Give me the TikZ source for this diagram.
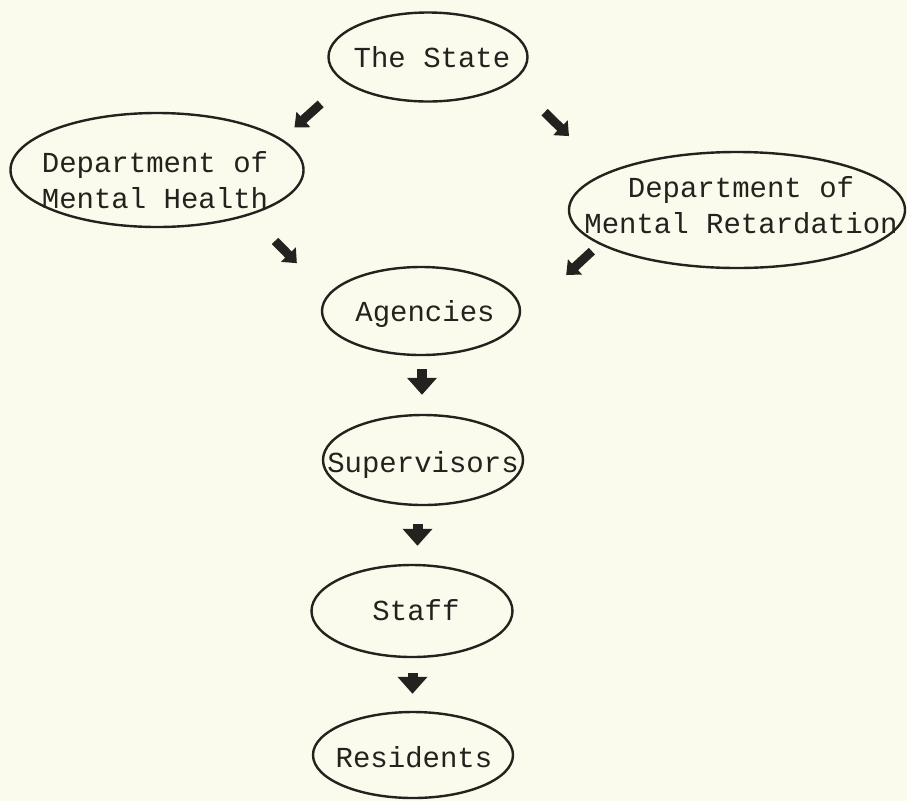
\documentclass[tikz,border=0pt]{standalone}
\usepackage{fontspec}
\setmainfont{Liberation Mono}
\usepackage{tikz}
\usetikzlibrary{arrows.meta,calc,shapes.geometric}
\definecolor{paper}{RGB}{250,251,236}
\definecolor{ink}{RGB}{36,34,30}
\tikzset{
	org/.style={ellipse, draw=ink, line width=2.4pt, inner sep=0pt},
	orgtext/.style={inner sep=0pt, text=ink, font=\fontsize{29}{36}\selectfont},
	oneline/.style={text height=19pt, text depth=0pt},
	twoline/.style={align=center},
	slant/.style={draw=ink, line width=9pt, -{Triangle[width=20pt,length=12pt]}},
	drop/.style={draw=ink, line width=10pt, -{Triangle[width=29pt,length=17pt]}}
}

\begin{document}
\begin{tikzpicture}[x=1pt,y=-1pt]
		%%%%% START %%%%%
		\useasboundingbox (0,0) rectangle (907,801);
		\fill[paper] (0,0) rectangle (907,801);
		
		\node[org, minimum width=199pt, minimum height=89pt, label={[orgtext,oneline,xshift=4pt,yshift=-1pt]center:The State}] (state) at (428,57) {};
		\node[org, minimum width=293pt, minimum height=114pt, label={[orgtext,twoline,xshift=-2pt,yshift=-10pt]center:Department of\\Mental Health}] (dmh) at (157,170) {};
		\node[org, minimum width=336pt, minimum height=116pt, label={[orgtext,twoline,xshift=4pt,yshift=5pt]center:Department of\\Mental Retardation}] (dmr) at (737,210) {};
		
		\node[org, minimum width=198pt, minimum height=88pt, label={[orgtext,oneline,xshift=4pt,yshift=-1pt]center:Agencies}] (agencies) at (421,311) {};
		\node[org, minimum width=200pt, minimum height=90pt, label={[orgtext,oneline,yshift=-3pt]center:Supervisors}] (supervisors) at (423,460) {};
		\node[org, minimum width=201pt, minimum height=92pt, label={[orgtext,oneline,xshift=4pt]center:Staff}] (staff) at (412,611) {};
		\node[org, minimum width=200pt, minimum height=86pt, label={[orgtext,oneline,xshift=1pt,yshift=-3pt]center:Residents}] (residents) at (413,755) {};
		
		% the slanted arrows
		\draw[slant, shorten <=32pt, shorten >=17pt] (state.197) -- (dmh.14);
		\draw[slant, shorten <=44pt, shorten >=52pt] (state.344) -- (dmr.164);
		\draw[slant, shorten <=36pt, shorten >=44pt] (dmh.334) -- (agencies.170);
		\draw[slant, shorten <=10pt, shorten >=63pt] (dmr.194) -- (agencies.356);
		
		% the arrows down the chain
		\foreach \a/\b/\s/\e in {agencies/supervisors/13/19, supervisors/staff/18/18, staff/residents/15/17}{
			\coordinate (mid) at ($(\a.south)!.5!(\b.north)$);
			\draw[drop, shorten <=\s pt, shorten >=\e pt] (\a.south -| mid) -- (\b.north -| mid);
		}
		%%%%% END %%%%%
	\end{tikzpicture}
\end{document}
